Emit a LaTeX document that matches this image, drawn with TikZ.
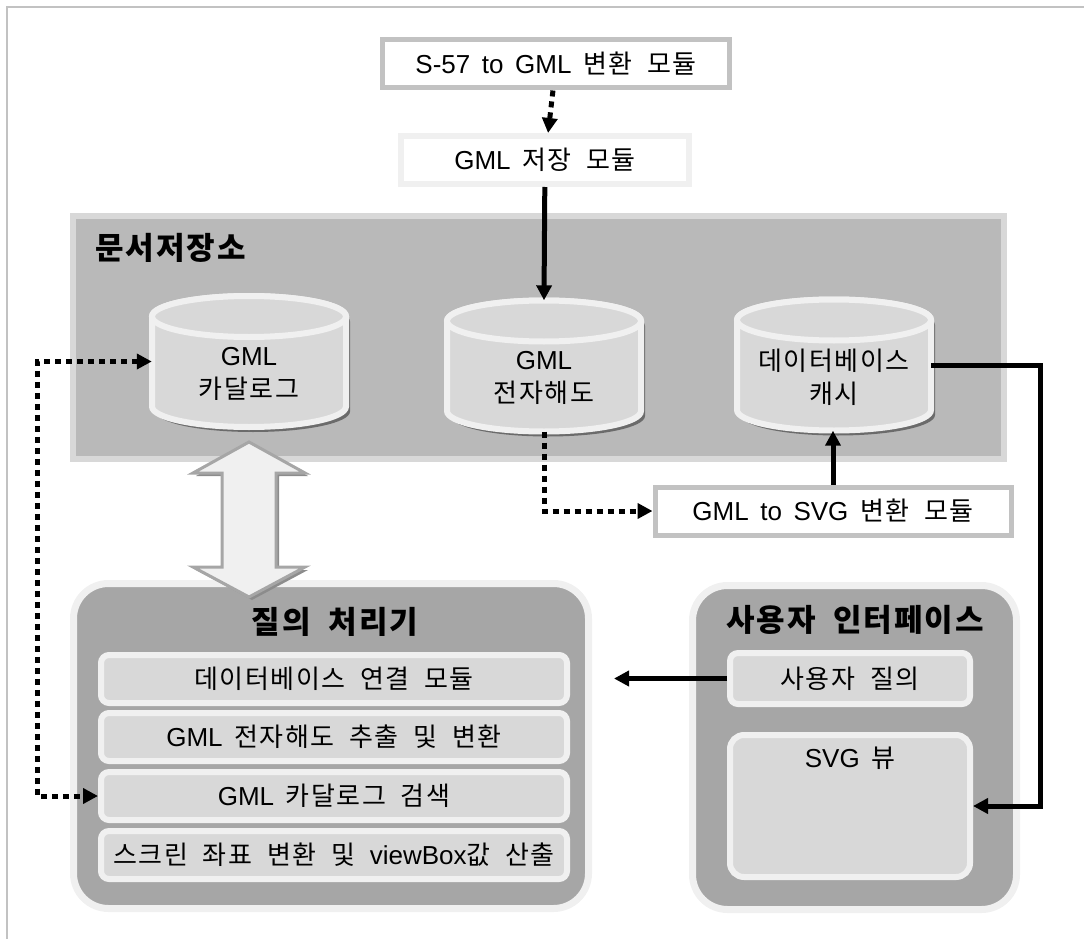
\documentclass[tikz,border=0pt]{standalone}
\usepackage{fontspec}
\setmainfont[WordSpace=1.6]{Liberation Sans}
\newfontfamily\hangulfont[LetterSpace=6,WordSpace=2.0]{Noto Sans CJK KR}
\newfontfamily\latinfont[WordSpace=1.6]{Liberation Sans}
% hangul syllables in the CJK face, the rest in Liberation Sans
\XeTeXinterchartokenstate=1
\newXeTeXintercharclass\hangulclass
\count255="AC00
\loop\XeTeXcharclass\count255=\hangulclass
  \ifnum\count255<"D7A3 \advance\count255 by 1 \repeat
\XeTeXinterchartoks 0 \hangulclass = {\hangulfont}
\XeTeXinterchartoks 4095 \hangulclass = {\hangulfont}
\XeTeXinterchartoks \hangulclass 0 = {\latinfont}
\XeTeXinterchartoks 4095 0 = {\latinfont}
\usetikzlibrary{shadows,arrows.meta}
\definecolor{rim}{HTML}{F0F0F0}
\definecolor{pale}{HTML}{D8D8D8}
\definecolor{mid}{HTML}{B9B9B9}
\definecolor{dark}{HTML}{A6A6A6}
\definecolor{edge}{HTML}{C2C2C2}
% database cylinder: name, x, y, text
\newcommand\dbcyl[4]{%
  \begin{scope}[shift={(#2,#3)}]
    \filldraw[db,drop shadow={shadow xshift=4pt,shadow yshift=-5pt,fill=black!58,opacity=1}]
      (-97,-45) -- (-97,45) arc(180:0:97 and 20.5) -- (97,-45) arc(0:-180:97 and 20.5) -- cycle;
    \draw[db] (0,-45) ellipse (97 and 20.5);
  \end{scope}
  \node[minimum width=194pt,minimum height=131pt,inner sep=0pt] (#1) at (#2,#3) {};
  \node[txt,align=center] (#1t) at (#2,#3+12) {#4};}

\begin{document}
\begin{tikzpicture}[x=1pt,y=-1pt,
    txt/.style={font=\fontsize{26}{33}\selectfont},
    ttl/.style={font=\fontsize{31}{34}\selectfont\bfseries},
    module/.style={txt,draw=edge,line width=5pt,fill=white,minimum height=48pt},
    db/.style={draw=rim,line width=6pt,fill=pale},
    panel/.style={draw=rim,line width=7pt,fill=dark,rounded corners=35pt},
    item/.style={txt,draw=rim,line width=6pt,fill=pale,rounded corners=8pt},
    flow/.style={line width=5pt,-{Triangle[length=15pt,width=15pt]}},
    dots/.style={flow,dash pattern=on 6pt off 5pt},
    both/.style={dots,{Triangle[length=15pt,width=15pt]}-{Triangle[length=15pt,width=15pt]}}]
  \useasboundingbox (0,0) rectangle (1084,939);
  \draw[edge,line width=2pt] (7,939) -- (7,7) -- (1084,7);

  % document store
  \node[draw=pale,line width=6pt,fill=mid,minimum width=931pt,minimum height=243pt] (repo) at (538.5,337.5) {};
  \node[ttl,anchor=west] (repot) at (92,248) {문서저장소};
  \dbcyl{cat}{249}{361.5}{GML\\카달로그}
  \dbcyl{chart}{544}{366}{GML\\전자해도}
  \dbcyl{cache}{834}{365}{데이터베이스\\캐시}

  \node[module,minimum width=347pt] (s57) at (556,64) {S-57 to GML 변환 모듈};
  \node[module,draw=rim,line width=6pt,minimum width=288pt] (store) at (545,160) {GML 저장 모듈};
  \node[module,minimum width=356pt] (conv) at (833,511) {GML to SVG 변환 모듈};

  % query processor
  \node[panel,minimum width=515pt,minimum height=325pt] (qp) at (331,746) {};
  \node[ttl] (qpt) at (335,622) {질의 처리기};
  \foreach \i/\y/\t in {1/679/데이터베이스 연결 모듈,2/737/GML 전자해도 추출 및 변환,
      3/796/GML 카달로그 검색,4/855/스크린 좌표 변환 및 viewBox값 산출}
    \node[item,minimum width=466pt,minimum height=48pt] (r\i) at (334,\y) {\t};

  % user interface
  \node[panel,minimum width=324pt,minimum height=324pt] (ui) at (854.5,747.5) {};
  \node[ttl] (uit) at (855,620) {사용자 인터페이스};
  \node[item,minimum width=240pt,minimum height=51pt] (qry) at (850,678.5) {사용자 질의};
  \node[item,rounded corners=14pt,minimum width=240pt,minimum height=142pt,
      label={[txt,anchor=north,yshift=-11pt]north:SVG 뷰}] (view) at (850,806) {};

  \draw[fill=rim,draw=black!35,line width=3pt,
      drop shadow={shadow xshift=3pt,shadow yshift=-3pt,fill=black!45,opacity=1}]
    (249,442) -- (305,473) -- (276,473) -- (276,567) -- (305,567) -- (249,597)
    -- (193,567) -- (222,567) -- (222,473) -- (193,473) -- cycle;

  \coordinate (lft) at (37,0);
  \coordinate (rgt) at (1040,0);
  \coordinate (qin) at (614,0);
  \draw[dots] (s57) -- (store);
  \draw[flow] (store) -- (chart.north);
  \draw[dots] (chart.south) |- (conv.west);
  \draw[flow] (conv.north) -- (conv.north |- cache.south);
  \draw[flow] (cache.east) -- (cache.east -| rgt) -- (rgt |- view.east) -- (view.east);
  \draw[flow] (qry.west) -- (qry.west -| qin);
  \draw[both] (cat.west) -- (cat.west -| lft) -- (lft |- r3.west) -- (r3.west);
\end{tikzpicture}
\end{document}
